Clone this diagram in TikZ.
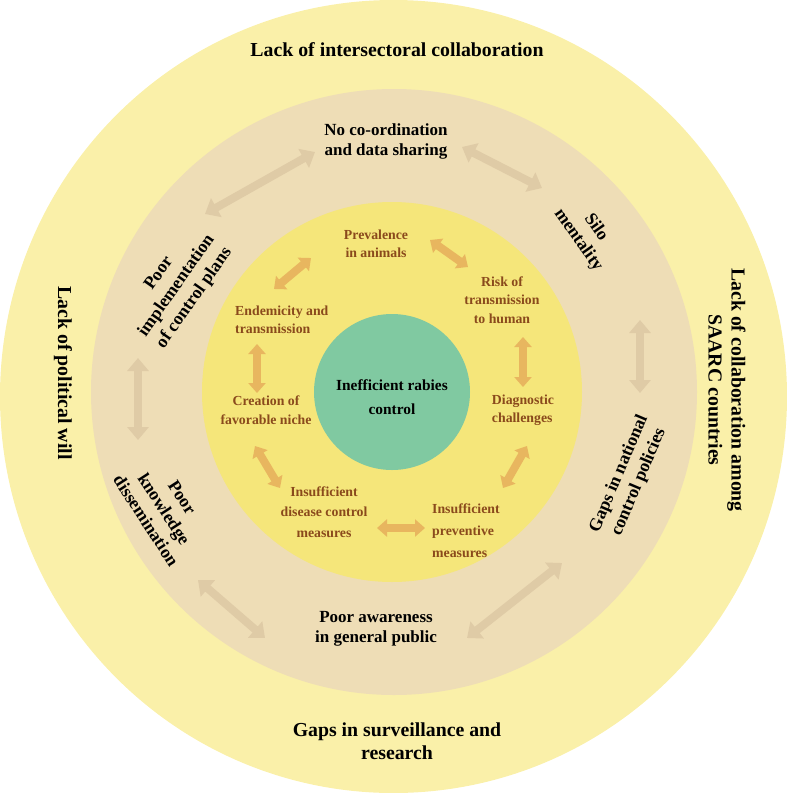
\documentclass[tikz,border=0pt]{standalone}
\usepackage{fontspec}
\setmainfont{Liberation Serif}
\usetikzlibrary{arrows.meta}
\definecolor{outery}{HTML}{FAF0A9}
\definecolor{tanring}{HTML}{EEDDB6}
\definecolor{innery}{HTML}{F5E67A}
\definecolor{greenc}{HTML}{80C9A1}
\definecolor{browntext}{HTML}{8A4A1C}
\definecolor{tanarrow}{HTML}{DFCBA6}
\definecolor{orarrow}{HTML}{E8B65F}
\begin{document}
\begin{tikzpicture}[x=1pt,y=-1pt,
  outerlbl/.style={font=\fontsize{19.8}{23}\selectfont\bfseries, align=center, text=black, inner sep=0},
  midlbl/.style={font=\fontsize{17}{20}\selectfont\bfseries, align=center, text=black, inner sep=0},
  rotlbl/.style={font=\fontsize{17.8}{21.5}\selectfont\bfseries, align=center, text=black, inner sep=0},
  innerlbl/.style={font=\fontsize{13.8}{18.5}\selectfont\bfseries, text=browntext, align=center, inner sep=0},
  centerlbl/.style={font=\fontsize{15.4}{24}\selectfont\bfseries, text=black, align=center, inner sep=0},
  tanarr/.style={draw=tanarrow, line width=8pt, {Triangle[width=21pt,length=13pt]}-{Triangle[width=21pt,length=13pt]}},
  orarr/.style={draw=orarrow, line width=8pt, {Triangle[width=17pt,length=10pt]}-{Triangle[width=17pt,length=10pt]}},
]
\useasboundingbox (0,0) rectangle (787,793);
% rings
\fill[outery] (393.5,396.5) ellipse [x radius=393.5, y radius=396.5];
\fill[tanring] (394,392) circle [radius=303];
\fill[innery] (392,392) circle [radius=190];
\fill[greenc] (392,392) circle [radius=78];

% outer labels
\node[outerlbl] (o1) at (397,50) {Lack of intersectoral collaboration};
\node[outerlbl] (o2) at (397,741) {Gaps in surveillance and\\research};
\node[outerlbl, rotate=-90] (o3) at (63,373) {Lack of political will};
\node[outerlbl, rotate=-90] (o4) at (727,390) {Lack of collaboration among\\SAARC countries};

% middle labels
\node[midlbl] (m1) at (386,141) {No co-ordination\\and data sharing};
\node[rotlbl, rotate=-55] (m2) at (587,234) {Silo\\mentality};
\node[rotlbl, rotate=67] (m3) at (629,478) {Gaps in national\\control policies};
\node[midlbl] (m4) at (376,629) {Poor awareness\\in general public};
\node[rotlbl, rotate=-57] (m5) at (164,509) {Poor\\knowledge\\dissemination};
\node[rotlbl, rotate=55] (m6) at (177,286) {Poor\\implementation\\of control plans};

% inner labels
\node[innerlbl] (i1) at (376,244) {Prevalence\\in animals};
\node[innerlbl] (i2) at (502,300) {Risk of\\transmission\\to human};
\node[innerlbl, align=left, anchor=west] (i3) at (235,320) {Endemicity and\\transmission};
\node[innerlbl] (i4) at (266,410) {Creation of\\favorable niche};
\node[innerlbl, align=left] (i5) at (523,410) {Diagnostic\\challenges};
\node[innerlbl, font=\fontsize{13.8}{20.5}\selectfont\bfseries] (i6) at (324,512) {Insufficient\\disease control\\measures};
\node[innerlbl, align=left, anchor=west, font=\fontsize{13.8}{22}\selectfont\bfseries] (i7) at (432,531) {Insufficient\\preventive\\measures};
\node[centerlbl] (c) at (392,397) {Inefficient rabies\\control};

% arrow end points (tan ring)
\coordinate (t1a) at (205,214); \coordinate (t1b) at (315,152);
\coordinate (t2a) at (462,147); \coordinate (t2b) at (542,188);
\coordinate (t3a) at (640,320); \coordinate (t3b) at (640,393);
\coordinate (t4a) at (562,563); \coordinate (t4b) at (467,638);
\coordinate (t5a) at (198,580); \coordinate (t5b) at (265,638);
\coordinate (t6a) at (138,358); \coordinate (t6b) at (138,440);
% arrow end points (inner ring)
\coordinate (r1a) at (274,289); \coordinate (r1b) at (311,258);
\coordinate (r2a) at (430,240); \coordinate (r2b) at (468,267);
\coordinate (r3a) at (523,337); \coordinate (r3b) at (523,387);
\coordinate (r4a) at (527,446); \coordinate (r4b) at (503,488);
\coordinate (r5a) at (425,528); \coordinate (r5b) at (377,528);
\coordinate (r6a) at (255,446); \coordinate (r6b) at (280,488);
\coordinate (r7a) at (257,344); \coordinate (r7b) at (257,393);

\foreach \k in {1,...,6} {\draw[tanarr] (t\k a) -- (t\k b);}
\foreach \k in {1,...,7} {\draw[orarr] (r\k a) -- (r\k b);}
\end{tikzpicture}
\end{document}
